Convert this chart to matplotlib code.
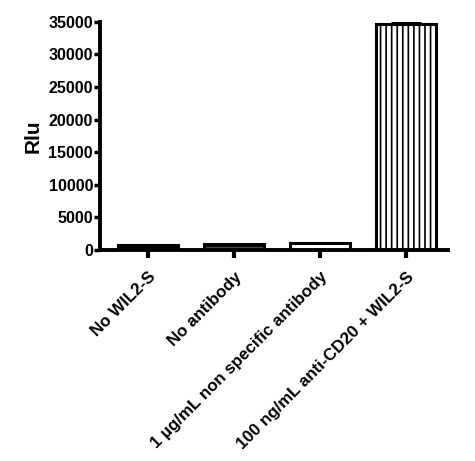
import matplotlib
matplotlib.use("Agg")
import matplotlib.pyplot as plt
import numpy as np

categories = ["No WIL2-S", "No antibody", "1 \u00b5g/mL non specific antibody",
              "100 ng/mL anti-CD20 + WIL2-S"]
values = [800, 950, 1000, 34600]
errors = [0, 0, 0, 300]
yticks = [0, 5000, 10000, 15000, 20000, 25000, 30000, 35000]

plt.rcParams['font.family'] = ['Liberation Sans', 'DejaVu Sans']
plt.rcParams['font.weight'] = 'bold'
plt.rcParams['hatch.linewidth'] = 1.2

fig = plt.figure(figsize=(4.75, 4.61), dpi=100)
ax = fig.add_axes([100/475, 1-250/461, 348/475, (250-21.7)/461])

x = np.arange(len(categories))
faces = ['black', 'white', 'white', 'white']
hatches = [None, '--------', None, '|||']
for xi, v, e, fc, h in zip(x, values, errors, faces, hatches):
    ax.bar(xi, v, width=0.7, facecolor=fc, edgecolor='black', linewidth=2.2,
           hatch=h, zorder=2)
    if e > 0:
        ax.errorbar(xi, v, yerr=[[0], [e]], fmt='none', ecolor='black',
                    elinewidth=2.2, capsize=11, capthick=2.2, zorder=3)

ax.set_xlim(-0.558, 3.49)
ax.set_ylim(0, 35000)
ax.set_yticks(yticks)
ax.set_yticklabels([str(t) for t in yticks], fontsize=11.5, fontweight='bold')
ax.set_xticks(x)
ax.set_xticklabels(categories, rotation=45, ha='right', va='top',
                   rotation_mode='anchor', fontsize=12.2, fontweight='bold')
ax.set_ylabel("Rlu", fontsize=15, fontweight='bold', labelpad=4)

for s in ['top', 'right']:
    ax.spines[s].set_visible(False)
for s in ['left', 'bottom']:
    ax.spines[s].set_linewidth(2.8)
ax.tick_params(axis='y', length=4, width=2.5, pad=1)
ax.tick_params(axis='x', length=6, width=3, pad=8)

fig.savefig("out.png", dpi=100)
